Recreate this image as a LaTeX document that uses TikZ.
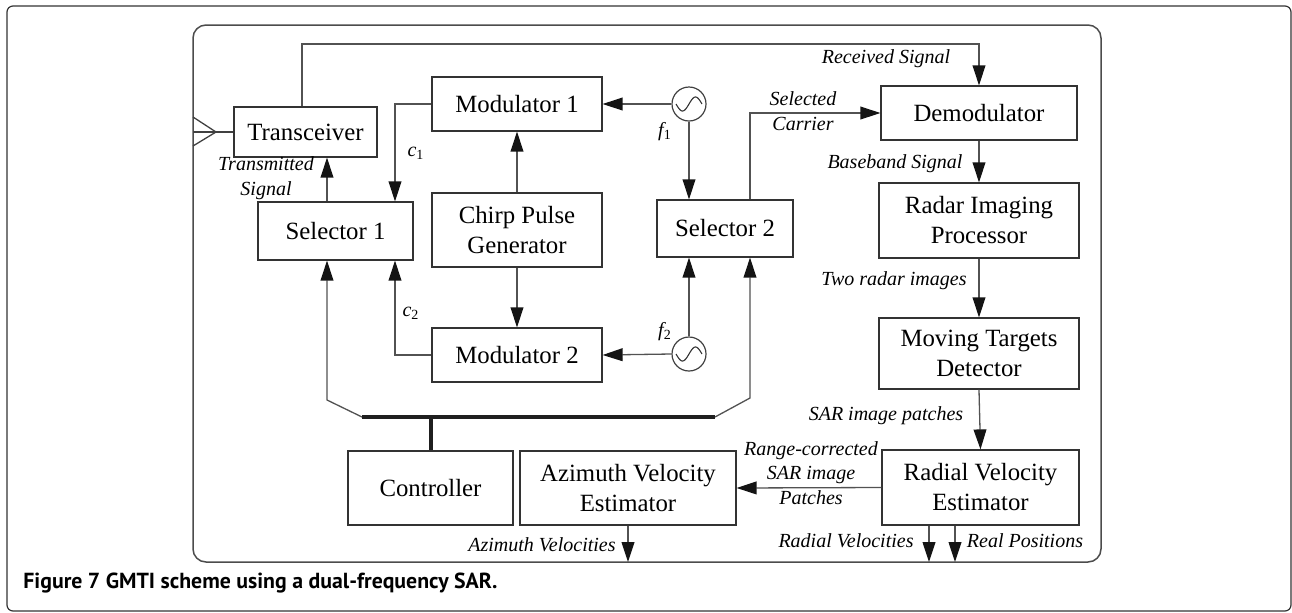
\documentclass[tikz,border=0pt]{standalone}
\usepackage{fontspec}
\setmainfont{Liberation Serif}
\newfontfamily\capfont{PT Sans}
\usetikzlibrary{arrows.meta}
\begin{document}
\begin{tikzpicture}[x=0.5pt,y=-0.5pt,
  box/.style={draw=black!80, line width=0.6pt, inner sep=0pt, align=center,
    font=\fontsize{12.4}{15}\selectfont},
  lbl/.style={inner sep=0pt, align=center, font=\fontsize{10}{12.2}\selectfont\itshape},
  conn/.style={draw=black!68, line width=0.65pt},
  arr/.style={conn, -{Triangle[length=10pt,width=6.4pt,color=black!92]}},
  bus/.style={draw=black!88, line width=2pt},
  osc/.style={circle, draw=black!75, line width=0.6pt, minimum size=17pt, inner sep=0pt},
  frame/.style={draw=black!70, line width=0.75pt, rounded corners=6.5pt}
]
\useasboundingbox (0,0) rectangle (1292,612);
% outer frame
\draw[draw=black!80, line width=0.6pt, rounded corners=3pt] (7,6) rectangle (1291,611);
% inner frame
\draw[frame] (193,25) rectangle (1101,562);

% boxes
\node[box, minimum width=71.5pt, minimum height=25pt] (trans) at (305.5,132) {Transceiver};
\node[box, minimum width=85pt, minimum height=27pt] (mod1) at (517,104) {Modulator 1};
\node[box, minimum width=85pt, minimum height=37pt] (chirp) at (517,230) {Chirp Pulse\\Generator};
\node[box, minimum width=85pt, minimum height=27pt] (mod2) at (517,355) {Modulator 2};
\node[box, minimum width=77.5pt, minimum height=29pt] (sel1) at (335.5,231) {Selector 1};
\node[box, minimum width=68pt, minimum height=28.5pt] (sel2) at (725,228.5) {Selector 2};
\node[box, minimum width=98pt, minimum height=27pt] (demod) at (979,113) {Demodulator};
\node[box, minimum width=100pt, minimum height=37.5pt] (rip) at (979,220.5) {Radar Imaging\\Processor};
\node[box, minimum width=100pt, minimum height=35.5pt] (mtd) at (979,353.5) {Moving Targets\\Detector};
\node[box, minimum width=98.5pt, minimum height=37.5pt] (rve) at (980.5,487.5) {Radial Velocity\\Estimator};
\node[box, minimum width=108pt, minimum height=37pt] (ave) at (628,488) {Azimuth Velocity\\Estimator};
\node[box, minimum width=82.5pt, minimum height=37pt] (ctrl) at (430.5,488) {Controller};

% oscillators
\node[osc] (osc1) at (689,104) {};
\node[osc] (osc2) at (689,354) {};
\draw[black!80, line width=0.55pt, shift={(osc1.center)}] plot[domain=-1:1, samples=40, smooth] (\x*13, {-7*sin(\x*180)});
\draw[black!80, line width=0.55pt, shift={(osc2.center)}] plot[domain=-1:1, samples=40, smooth] (\x*13, {-7*sin(\x*180)});

% coordinates
\coordinate (a0) at (193,132);
\coordinate (a1) at (193,117);
\coordinate (a2) at (216,132);
\coordinate (a3) at (193,146);
\coordinate (tl) at (302,44);
\coordinate (tr) at (979,44);
\coordinate (cA) at (327,0);
\coordinate (cB) at (395,0);
\coordinate (cS) at (750,0);
\coordinate (bl1) at (327,400);
\coordinate (bl2) at (362,417);
\coordinate (br1) at (750,398);
\coordinate (br2) at (715,417);
\coordinate (bc) at (430.5,417);
\coordinate (o1) at (929,562);
\coordinate (o2) at (955,562);
\coordinate (o3) at (628,562);

% antenna
\draw[conn, black!75] (a1) -- (a2) -- (a3);
\draw[conn, black!75] (a0) -- (trans.west);

% connectors
\draw[arr] (trans.north -| tl) -- (tl) -- (tr) -- (demod.north);
\draw[arr] (sel1.north -| cA) -- (trans.south -| cA);
\draw[arr] (mod1.west) -- (mod1.west -| cB) -- (sel1.north -| cB);
\draw[arr] (mod2.west) -- (mod2.west -| cB) -- (sel1.south -| cB);
\draw[arr] (chirp.north) -- (mod1.south);
\draw[arr] (chirp.south) -- (mod2.north);
\draw[arr] (osc1.west) -- (mod1.east);
\draw[arr] (osc2.west) -- (mod2.east);
\draw[arr] (osc1.south) -- (sel2.north -| osc1.south);
\draw[arr] (osc2.north) -- (sel2.south -| osc2.north);
\draw[arr] (sel2.north -| cS) -- (cS |- demod.west) -- (demod.west);
\draw[arr] (demod.south) -- (rip.north);
\draw[arr] (rip.south) -- (mtd.north);
\draw[arr] (mtd.south) -- (rve.north);
\draw[arr] (rve.west) -- (ave.east);
\draw[arr] (ave.south -| o3) -- (o3);
\draw[arr] (rve.south -| o1) -- (o1);
\draw[arr] (rve.south -| o2) -- (o2);
\draw[arr] (bl2) -- (bl1) -- (sel1.south -| bl1);
\draw[arr] (br2) -- (br1) -- (sel2.south -| br1);
\draw[bus] (bl2) -- (br2);
\draw[bus] (bc) -- (ctrl.north);

% labels
\node[lbl] (lc1) at (416,153) {c\textsubscript{\upshape 1}};
\node[lbl] (lc2) at (411,313) {c\textsubscript{\upshape 2}};
\node[lbl] (lf1) at (665,132) {f\textsubscript{\upshape 1}};
\node[lbl] (lf2) at (665,332) {f\textsubscript{\upshape 2}};
\node[lbl] (ltx) at (266,178) {Transmitted\\Signal};
\node[lbl] (lrx) at (886,59) {Received Signal};
\node[lbl] (lsc) at (803,111) {Selected\\Carrier};
\node[lbl] (lbb) at (895,164) {Baseband Signal};
\node[lbl] (ltr) at (894,281) {Two radar images};
\node[lbl] (lsp) at (886,416) {SAR image patches};
\node[lbl] (lrc) at (811,473) {Range-corrected\\SAR image\\Patches};
\node[lbl] (laz) at (542,545) {Azimuth Velocities};
\node[lbl] (lrv) at (846,541) {Radial Velocities};
\node[lbl] (lrp) at (1025,541) {Real Positions};

% caption
\node[anchor=west, inner sep=0pt, font=\capfont\bfseries\fontsize{10.9}{12}\selectfont] (cap) at (23,583) {Figure 7 GMTI scheme using a dual-frequency SAR.};
\end{tikzpicture}
\end{document}
